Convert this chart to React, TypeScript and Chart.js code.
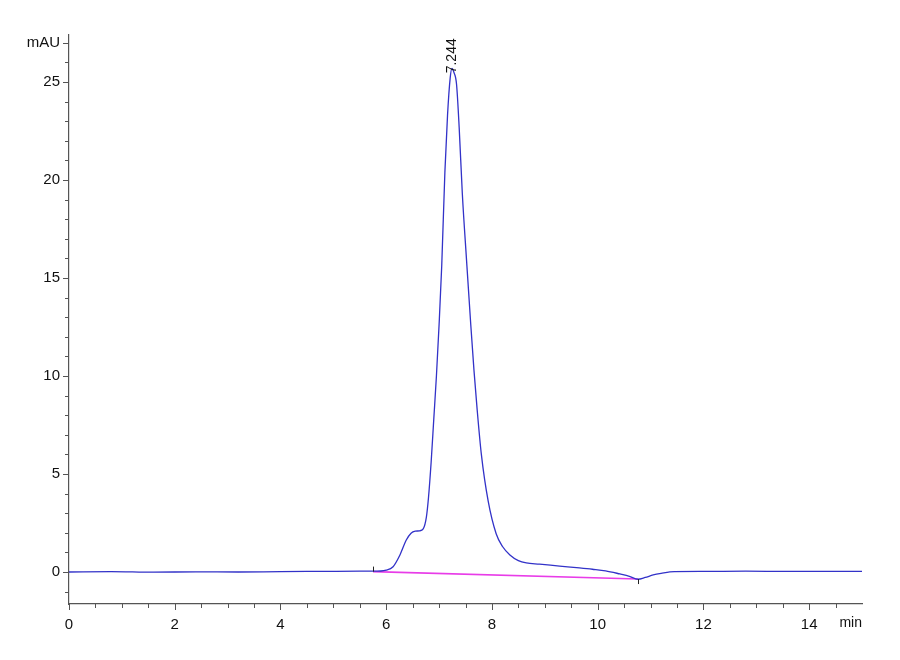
import { Chart, registerables } from 'chart.js'
import { useEffect, useRef } from 'react'

Chart.register(...registerables)

// retention time (min) and detector signal (mAU)
const timeMin = [
    0, 0.8, 1.6, 2.4, 3.2, 4.0, 4.8, 5.5, 5.75, 6.0, 6.13, 6.26, 6.38, 6.47, 6.55, 6.63,
    6.7, 6.76, 6.8, 6.85, 6.9, 6.95, 7.0, 7.05, 7.11, 7.16, 7.21, 7.244, 7.28, 7.33,
    7.38, 7.44, 7.52, 7.6, 7.66, 7.72, 7.8, 7.93, 8.08, 8.2, 8.34, 8.5, 8.65, 8.9,
    9.28, 9.6, 9.9, 10.15, 10.42, 10.6, 10.76, 10.9, 11.05, 11.2, 11.45, 12, 12.8,
    13.6, 14.4, 15,
]
const signalMAU = [
    0.0, 0.02, -0.01, 0.01, 0.0, 0.02, 0.03, 0.04, 0.04, 0.1, 0.27, 0.87, 1.63, 1.98, 2.08, 2.1,
    2.2, 2.8, 3.8, 5.6, 7.8, 10.0, 12.6, 15.6, 20.4, 23.3, 25.2, 25.7, 25.5, 24.9,
    22.7, 19.3, 15.9, 12.6, 10.3, 8.3, 6.0, 3.6, 1.95, 1.3, 0.87, 0.58, 0.46, 0.4,
    0.3, 0.22, 0.14, 0.06, -0.1, -0.22, -0.37, -0.28, -0.15, -0.07, 0.02, 0.03, 0.04,
    0.03, 0.03, 0.03,
]

// integration baseline under the peak
const baselineTime = [5.75, 10.76]
const baselineSignal = [0.02, -0.36]

const peakTime = 7.244
const peakHeight = 25.7
const peakLabel = '7.244'

// axis ticks
const xMajorTicks = [0, 2, 4, 6, 8, 10, 12, 14]
const xMinorStep = 0.5
const xUnitLabel = 'min'
const yMajorTicks = [0, 5, 10, 15, 20, 25]
const yMinorStep = 1
const yUnitLabel = 'mAU'
const yUnitTick = 27

const AXIS_COLOR = '#555555'
const FONT = "'Liberation Sans', Arial, sans-serif"

const rangeTicks = (from: number, to: number, step: number) => {
    const out: number[] = []
    for (let v = from; v <= to + 1e-9; v += step) out.push(Math.round(v * 100) / 100)
    return out
}

const axisMarks = {
    id: 'axisMarks',
    afterDraw(chart: any) {
        const ctx = chart.ctx as CanvasRenderingContext2D
        const x = chart.scales.x
        const y = chart.scales.y
        ctx.save()
        ctx.strokeStyle = AXIS_COLOR
        ctx.lineWidth = 1
        ctx.beginPath()
        x.ticks.forEach((t: any) => {
            const px = Math.round(x.getPixelForValue(t.value)) + 0.5
            const len = xMajorTicks.includes(t.value) ? 6 : 4
            ctx.moveTo(px, y.bottom)
            ctx.lineTo(px, y.bottom + len)
        })
        y.ticks.forEach((t: any) => {
            const py = Math.round(y.getPixelForValue(t.value)) + 0.5
            const len = yMajorTicks.includes(t.value) || t.value === yUnitTick ? 6 : 4
            ctx.moveTo(x.left, py)
            ctx.lineTo(x.left - len, py)
        })
        ctx.stroke()

        // integration markers
        ctx.strokeStyle = '#222222'
        ctx.beginPath()
        const sx = Math.round(x.getPixelForValue(baselineTime[0])) + 0.5
        const sy = y.getPixelForValue(baselineSignal[0])
        ctx.moveTo(sx, sy)
        ctx.lineTo(sx, sy - 5)
        const ex = Math.round(x.getPixelForValue(baselineTime[1])) + 0.5
        const ey = y.getPixelForValue(baselineSignal[1])
        ctx.moveTo(ex, ey)
        ctx.lineTo(ex, ey + 5)
        ctx.stroke()

        // unit label on the time axis
        ctx.fillStyle = '#111111'
        ctx.font = `14px ${FONT}`
        ctx.textAlign = 'right'
        ctx.textBaseline = 'top'
        ctx.fillText(xUnitLabel, x.right, y.bottom + 12)

        // peak label, overlapping the apex as in the instrument printout
        const lx = x.getPixelForValue(peakTime)
        const ly = y.getPixelForValue(peakHeight)
        ctx.translate(lx, ly + 5)
        ctx.rotate(-Math.PI / 2)
        ctx.textAlign = 'left'
        ctx.textBaseline = 'middle'
        ctx.font = `14px ${FONT}`
        ctx.fillText(peakLabel, 0, 0)
        ctx.restore()
    },
}

const App = () => {
    const canvasRef = useRef<HTMLCanvasElement>(null)

    useEffect(() => {
        if (!canvasRef.current) return
        const chart = new Chart(canvasRef.current, {
            type: 'line',
            data: {
                datasets: [
                    {
                        label: 'signal',
                        data: timeMin.map((t, i) => ({ x: t, y: signalMAU[i] })),
                        borderColor: '#3232c8',
                        borderWidth: 1.3,
                        pointRadius: 0,
                        cubicInterpolationMode: 'monotone',
                    },
                    {
                        label: 'baseline',
                        data: baselineTime.map((t, i) => ({ x: t, y: baselineSignal[i] })),
                        borderColor: '#e83ce8',
                        borderWidth: 1.6,
                        pointRadius: 0,
                    },
                ],
            },
            options: {
                animation: false,
                responsive: true,
                maintainAspectRatio: false,
                layout: { padding: { top: 35, right: 38, left: 0, bottom: 0 } },
                plugins: { legend: { display: false }, tooltip: { enabled: false } },
                scales: {
                    x: {
                        type: 'linear',
                        min: 0,
                        max: 15,
                        afterFit: (s: any) => { s.height = 56 },
                        afterBuildTicks: (s: any) => {
                            s.ticks = rangeTicks(0, 14.5, xMinorStep).map(v => ({ value: v }))
                        },
                        grid: { display: false, drawTicks: false },
                        border: { display: true, color: AXIS_COLOR, width: 1.2 },
                        ticks: {
                            autoSkip: false,
                            maxRotation: 0,
                            padding: 12,
                            color: '#111111',
                            font: { family: FONT, size: 15 },
                            callback: (v: any) => (xMajorTicks.includes(Number(v)) ? String(v) : ''),
                        },
                    },
                    y: {
                        type: 'linear',
                        min: -1.633,
                        max: 27.4,
                        afterFit: (s: any) => { s.width = 69 },
                        afterBuildTicks: (s: any) => {
                            s.ticks = rangeTicks(-1, yUnitTick, yMinorStep).map(v => ({ value: v }))
                        },
                        grid: { display: false, drawTicks: false },
                        border: { display: true, color: AXIS_COLOR, width: 1.2 },
                        ticks: {
                            autoSkip: false,
                            padding: 9,
                            color: '#111111',
                            font: { family: FONT, size: 15 },
                            callback: (v: any) => {
                                const n = Number(v)
                                if (n === yUnitTick) return yUnitLabel
                                return yMajorTicks.includes(n) ? String(n) : ''
                            },
                        },
                    },
                },
            },
            plugins: [axisMarks],
        })
        return () => chart.destroy()
    }, [])

    return (
        <div style={{ position: 'fixed', left: 0, top: 0, width: 900, height: 660, background: '#ffffff' }}>
            <canvas ref={canvasRef}></canvas>
        </div>
    )
}

export default App
